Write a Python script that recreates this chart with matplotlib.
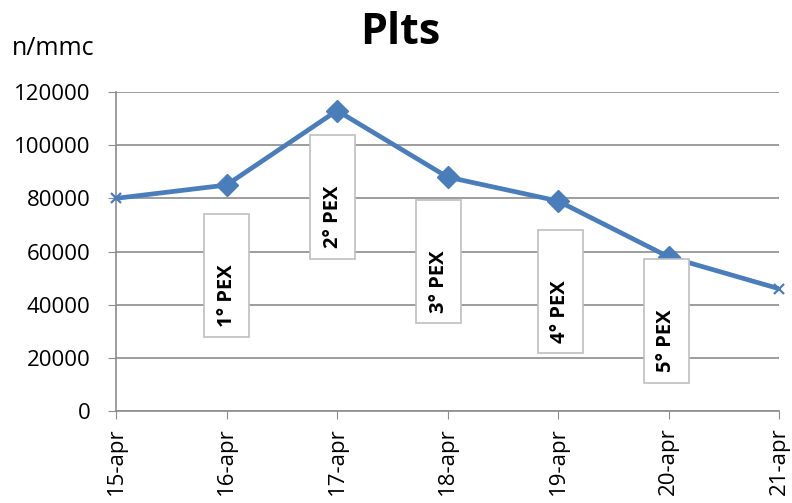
import matplotlib
matplotlib.use("Agg")
import matplotlib.pyplot as plt
from matplotlib.patches import Rectangle

plt.rcParams['font.family'] = ['Open Sans', 'DejaVu Sans']

dates = ["15-apr", "16-apr", "17-apr", "18-apr", "19-apr", "20-apr", "21-apr"]
plts = [80000, 85000, 113000, 88000, 79000, 58000, 46000]
pex_labels = ["1° PEX", "2° PEX", "3° PEX", "4° PEX", "5° PEX"]

# box centres (x index, y value) and size for the PEX annotations
pex_centres = [(1.0, 51000), (1.96, 80500), (2.92, 56200), (4.02, 45000), (4.98, 33900)]
box_w, box_h = 0.41, 46500
text_drop = 7500  # label sits in the lower part of each box

line_color = "#4A7EBB"
grid_color = "#8C8C8C"

fig = plt.figure(figsize=(7.92, 5.03), dpi=100)
ax = fig.add_axes([0.1465, 0.1829, 0.8371, 0.6342])

x = list(range(len(dates)))
ax.plot(x, plts, color=line_color, lw=3.4, zorder=3, solid_joinstyle="round")
ax.plot(x[1:-1], plts[1:-1], ls="none", marker="D", ms=11.5, color=line_color, zorder=4)
ax.plot([x[0], x[-1]], [plts[0], plts[-1]], ls="none", marker="x", ms=7.5,
        mew=1.6, color=line_color, zorder=4, clip_on=False)

for (cx, cy), lab in zip(pex_centres, pex_labels):
    ax.add_patch(Rectangle((cx - box_w / 2, cy - box_h / 2), box_w, box_h,
                           facecolor="white", edgecolor="#BFBFBF", lw=1.2, zorder=5))
    ax.text(cx, cy - text_drop, lab, rotation=90, ha="center", va="center",
            fontsize=14.5, fontweight="bold", zorder=6)

ax.set_xlim(0, len(dates) - 1)
ax.set_ylim(0, 120000)
ax.set_yticks(range(0, 120001, 20000))
ax.set_xticks(x)
ax.set_xticklabels(dates, rotation=90, fontsize=16)
ax.tick_params(axis="y", labelsize=16, length=5.5, color=grid_color, pad=13)
ax.tick_params(axis="x", length=5.5, color=grid_color, pad=6)
ax.yaxis.grid(True, color=grid_color, lw=1.2)
ax.set_axisbelow(True)
for s in ["top", "right"]:
    ax.spines[s].set_visible(False)
for s in ["left", "bottom"]:
    ax.spines[s].set_color(grid_color)
    ax.spines[s].set_linewidth(1.2)

fig.text(0.505, 0.9125, "Plts", ha="center", va="baseline", fontsize=31, fontweight="bold")
fig.text(0.015, 0.8907, "n/mmc", ha="left", va="baseline", fontsize=18)

fig.savefig("out.png", dpi=100)
